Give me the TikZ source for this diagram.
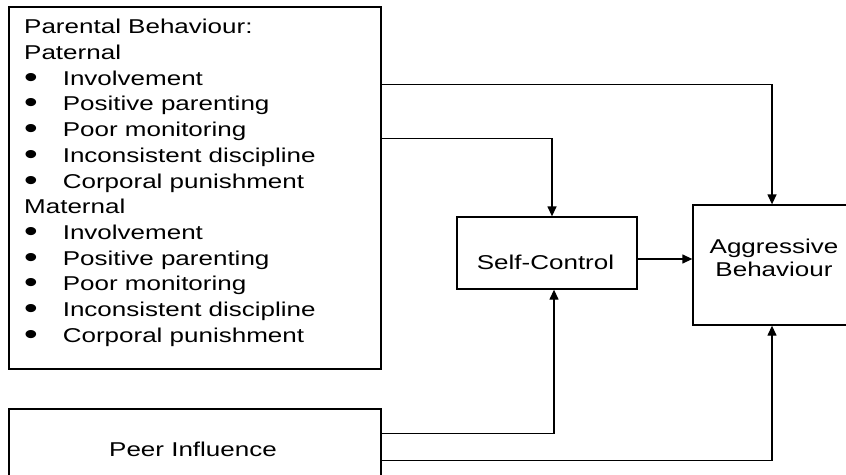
\documentclass[tikz,border=0pt]{standalone}
\usepackage{fontspec}
\usepackage{graphicx}
\setmainfont{Liberation Sans}[FakeStretch=1.3]
\usetikzlibrary{arrows.meta,calc}
\newcommand{\itembul}{\makebox[38.6pt][l]{\raisebox{-2pt}{\scalebox{1.5}{\textbullet}}}}
\begin{document}
\begin{tikzpicture}[x=1pt,y=-1pt,
  box/.style={draw, line width=1.3pt, rectangle, inner sep=0pt},
  lbl/.style={inner sep=0pt, font=\fontsize{20}{25.7}\selectfont},
  arr/.style={line width=1.3pt, -{Triangle[length=10pt,width=9pt]}}]
\clip (0,0) rectangle (846,474);
\fill[white] (0,0) rectangle (846,474);
% boxes
\node[box, minimum width=372pt, minimum height=362pt] (par) at (195,188) {};
\node[box, minimum width=180pt, minimum height=72pt] (sc) at (547,253) {};
\node[box, minimum width=158pt, minimum height=120pt] (agg) at (772,265) {};
\node[box, minimum width=372pt, minimum height=80pt] (peer) at (195,449) {};
% texts
\node[lbl, align=left, anchor=north west] (partext) at (24,19.2) {Parental Behaviour:\\Paternal\\
\itembul Involvement\\
\itembul Positive parenting\\
\itembul Poor monitoring\\
\itembul Inconsistent discipline\\
\itembul Corporal punishment\\
Maternal\\
\itembul Involvement\\
\itembul Positive parenting\\
\itembul Poor monitoring\\
\itembul Inconsistent discipline\\
\itembul Corporal punishment};
\node[lbl, anchor=base] (sctext) at (545.5,269) {Self-Control};
\node[lbl, align=center, anchor=north, font=\fontsize{20}{23}\selectfont] (aggtext) at (774,238.7) {Aggressive\\Behaviour};
\node[lbl, anchor=base] (peertext) at (193,456.5) {Peer Influence};
% connectors
\draw[arr] ([yshift=-78pt]par.north east) -| (agg.north);
\draw[arr] ([yshift=-132pt]par.north east) -| ([xshift=5pt]sc.north);
\draw[arr] ([yshift=-6pt]sc.east) -- ([yshift=-6pt]sc.east -| agg.west);
\draw[arr] ([yshift=-25pt]peer.north east) -| ([xshift=7pt]sc.south);
\draw[arr] ([yshift=-52pt]peer.north east) -| (agg.south);
\end{tikzpicture}
\end{document}
